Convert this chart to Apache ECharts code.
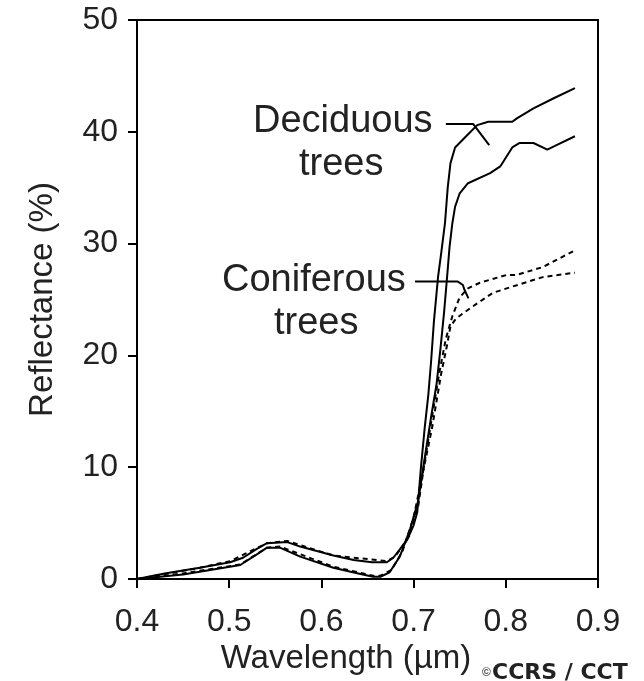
<!DOCTYPE html>
<html>
<head>
<meta charset="utf-8">
<script src="https://cdn.jsdelivr.net/npm/echarts@6/dist/echarts.min.js"></script>
<style>
html,body{margin:0;padding:0;background:#fff;}
#chart{width:644px;height:681px;}
</style>
</head>
<body>
<div id="chart"></div>
<script>
// Wavelength ticks (µm) and reflectance ticks (%)
var xTicks = [0.4, 0.5, 0.6, 0.7, 0.8, 0.9];
var yTicks = [0, 10, 20, 30, 40, 50];

// Deciduous trees (solid) – [wavelength µm, reflectance %]
var deciduousHigh = [[0.400,0.0],[0.430,0.5],[0.468,1.0],[0.501,1.5],[0.515,1.9],[0.530,2.7],[0.541,3.2],[0.563,3.3],[0.577,2.9],[0.613,2.1],[0.635,1.7],[0.655,1.5],[0.671,1.5],[0.678,1.9],[0.693,3.5],[0.700,4.8],[0.704,6.0],[0.708,10.0],[0.712,13.5],[0.716,16.5],[0.719,19.5],[0.722,23.0],[0.7265,27.0],[0.730,29.2],[0.734,31.8],[0.737,35.0],[0.740,37.2],[0.745,38.6],[0.757,39.6],[0.769,40.6],[0.781,40.9],[0.807,40.9],[0.812,41.2],[0.830,42.1],[0.852,43.0],[0.875,43.9]];
var deciduousLow = [[0.400,0.0],[0.450,0.4],[0.512,1.25],[0.530,2.2],[0.541,2.8],[0.555,2.8],[0.577,2.0],[0.613,1.0],[0.640,0.5],[0.656,0.2],[0.664,0.2],[0.674,0.6],[0.685,2.0],[0.696,4.4],[0.705,7.0],[0.712,10.8],[0.719,14.5],[0.725,17.5],[0.729,20.5],[0.733,23.8],[0.736,26.7],[0.739,29.7],[0.742,31.8],[0.745,33.3],[0.750,34.5],[0.759,35.4],[0.783,36.3],[0.794,36.9],[0.807,38.6],[0.815,39.0],[0.830,39.0],[0.845,38.4],[0.855,38.8],[0.875,39.6]];

// Coniferous trees (dotted)
var coniferousHigh = [[0.400,0.0],[0.468,1.0],[0.501,1.6],[0.541,3.2],[0.563,3.4],[0.613,2.1],[0.671,1.6],[0.680,2.0],[0.695,3.8],[0.705,6.5],[0.712,10.5],[0.720,14.5],[0.728,18.5],[0.735,21.5],[0.742,23.5],[0.750,25.2],[0.759,26.0],[0.772,26.5],[0.801,27.2],[0.812,27.2],[0.840,27.9],[0.875,29.4]];
var coniferousLow = [[0.400,0.0],[0.450,0.5],[0.512,1.3],[0.541,2.8],[0.555,2.9],[0.613,1.1],[0.656,0.3],[0.664,0.3],[0.676,0.8],[0.688,2.5],[0.700,5.5],[0.710,9.5],[0.720,13.5],[0.730,18.4],[0.736,20.8],[0.740,22.6],[0.746,23.3],[0.761,24.2],[0.786,25.6],[0.805,26.1],[0.840,27.0],[0.875,27.4]];

// Leader lines of the annotations (data coordinates)
var deciduousLeader = [[0.735,40.7],[0.7645,40.7],[0.782,38.8]];
var coniferousLeader = [[0.7015,26.6],[0.748,26.6],[0.7535,26.3],[0.755,25.9],[0.7595,25.1]];

var FONT = '"Liberation Sans", Arial, Helvetica, sans-serif';
var chart = echarts.init(document.getElementById('chart'), null, {renderer:'canvas'});

function lineSeries(name, data, type) {
  return {
    name: name, type: 'line', data: data, symbol: 'none', smooth: false,
    lineStyle: {color: '#000', width: 2, type: type}, z: 3, silent: true
  };
}

chart.setOption({
  animation: false,
  backgroundColor: '#fff',
  grid: {left: 137, right: 46, top: 20, bottom: 102, show: true, borderColor: '#000', borderWidth: 2},
  xAxis: {
    type: 'value', min: xTicks[0], max: xTicks[xTicks.length-1], interval: 0.1,
    name: 'Wavelength (µm)', nameLocation: 'middle', nameGap: 63,
    nameTextStyle: {fontFamily: FONT, fontSize: 33, color: '#222', padding: [0, 43, 0, 0]},
    axisLine: {lineStyle: {color: '#000', width: 2}},
    axisTick: {inside: false, length: 9, lineStyle: {color: '#000', width: 2}},
    axisLabel: {margin: 27, fontFamily: FONT, fontSize: 32, color: '#222',
      formatter: function(v){ return (Math.round(v*10)/10).toFixed(1); }},
    splitLine: {show: false}
  },
  yAxis: {
    type: 'value', min: yTicks[0], max: yTicks[yTicks.length-1], interval: 10,
    name: 'Reflectance (%)', nameLocation: 'middle', nameGap: 78,
    nameTextStyle: {fontFamily: FONT, fontSize: 33, color: '#222'},
    axisLine: {lineStyle: {color: '#000', width: 2}},
    axisTick: {inside: false, length: 9, lineStyle: {color: '#000', width: 2}},
    axisLabel: {margin: 19, fontFamily: FONT, fontSize: 32, color: '#222'},
    splitLine: {show: false}
  },
  series: [
    lineSeries('Deciduous trees (high)', deciduousHigh, 'solid'),
    lineSeries('Deciduous trees (low)', deciduousLow, 'solid'),
    lineSeries('Coniferous trees (high)', coniferousHigh, [5,4]),
    lineSeries('Coniferous trees (low)', coniferousLow, [5,4]),
    lineSeries('Deciduous leader', deciduousLeader, 'solid'),
    lineSeries('Coniferous leader', coniferousLeader, 'solid')
  ],
  graphic: [
    {type:'text', left: 253, top: 103, style:{text:'Deciduous', font:'38px ' + FONT, fill:'#222'}},
    {type:'text', left: 299, top: 146, style:{text:'trees', font:'38px ' + FONT, fill:'#222'}},
    {type:'text', left: 222, top: 262, style:{text:'Coniferous', font:'38px ' + FONT, fill:'#222'}},
    {type:'text', left: 274, top: 305, style:{text:'trees', font:'38px ' + FONT, fill:'#222'}},
    {type:'text', left: 482, top: 667, style:{text:'©', font:'bold 12px ' + FONT, fill:'#444'}},
    {type:'text', left: 492, top: 662, style:{text:'CCRS / CCT', font:'bold 22px "DejaVu Sans", ' + FONT, fill:'#222'}}
  ]
});
</script>
</body>
</html>
